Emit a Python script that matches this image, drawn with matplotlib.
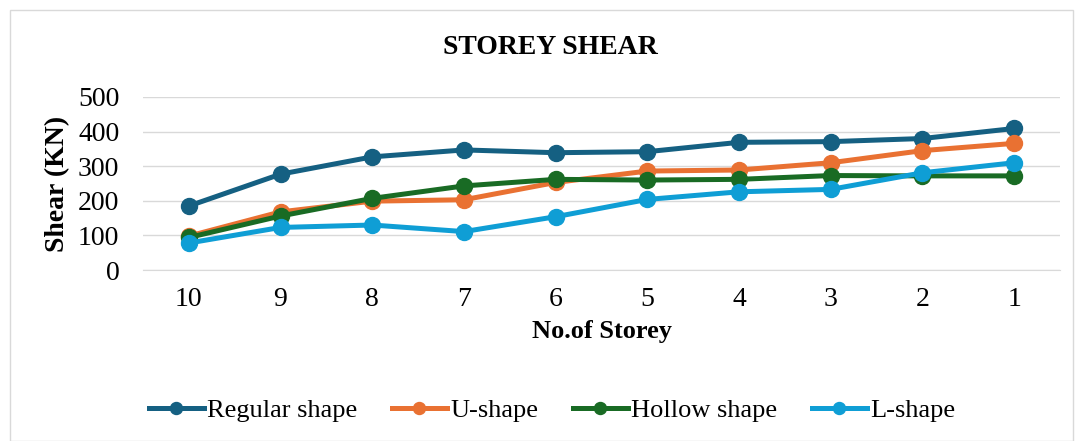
import matplotlib.pyplot as plt
from matplotlib.patches import Rectangle

storeys = ["10", "9", "8", "7", "6", "5", "4", "3", "2", "1"]
regular = [185, 277, 327, 347, 339, 342, 369, 371, 380, 409]
u_shape = [98, 168, 199, 203, 253, 286, 289, 310, 345, 366]
hollow = [94, 156, 207, 243, 262, 260, 262, 273, 272, 272]
l_shape = [78, 123, 130, 111, 154, 204, 226, 233, 281, 310]

plt.rcParams['font.family'] = ['Liberation Serif', 'DejaVu Serif']

fig = plt.figure(figsize=(10.83, 4.41), dpi=100)
ax = fig.add_axes([143 / 1083, 1 - 270 / 441, (1060 - 143) / 1083, (270 - 97) / 441])

# frame round the whole chart
fig.patches.append(Rectangle((10 / 1083, 0.0), 1063 / 1083, 1 - 10 / 441,
                             transform=fig.transFigure, fill=False,
                             edgecolor='#d9d9d9', linewidth=1))

x = range(len(storeys))
series = [("Regular shape", regular, '#156082'),
          ("U-shape", u_shape, '#E97132'),
          ("Hollow shape", hollow, '#196B24'),
          ("L-shape", l_shape, '#0F9ED5')]
for name, vals, col in series:
    ax.plot(x, vals, color=col, linewidth=3.6, marker='o', markersize=11.5, label=name)

ax.set_xlim(-0.5, len(storeys) - 0.5)
ax.set_ylim(0, 500)
ax.set_yticks(range(0, 501, 100))
ax.set_xticks(list(x))
ax.set_xticklabels(storeys)
ax.grid(axis='y', color='#d9d9d9', linewidth=1)
ax.set_axisbelow(True)
for s in ['top', 'right', 'left']:
    ax.spines[s].set_visible(False)
ax.spines['bottom'].set_color('#d9d9d9')
ax.tick_params(axis='x', length=0, labelsize=20, pad=12)
ax.tick_params(axis='y', length=0, labelsize=20, pad=17)

ax.set_xlabel("No.of Storey", fontsize=19, fontweight='bold', labelpad=6)
ax.set_ylabel("Shear (KN)", fontsize=20, fontweight='bold')
ax.yaxis.set_label_coords(-0.079, 0.5)
fig.text(550 / 1083, 1 - 48 / 441, "STOREY SHEAR", ha='center', va='center',
         fontsize=20, fontweight='bold')

fig.legend(loc='center', bbox_to_anchor=(552 / 1083, 1 - 410 / 441), ncol=4,
           frameon=False, fontsize=19, handlelength=2.1, handletextpad=0.12,
           columnspacing=1.3, markerscale=0.75)

fig.savefig("out.png", dpi=100)
